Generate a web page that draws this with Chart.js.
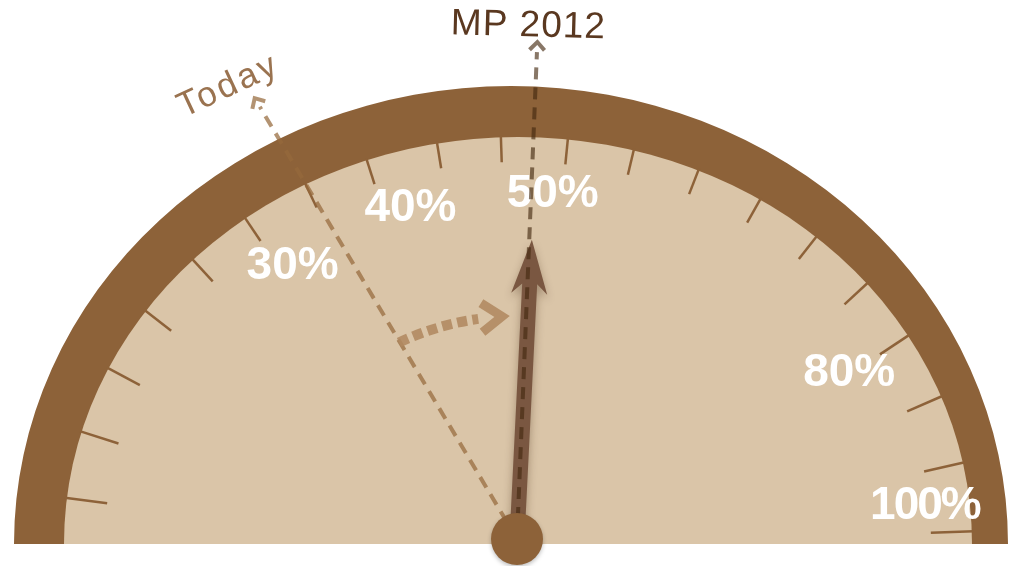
<!DOCTYPE html>
<html>
<head>
<meta charset="utf-8">
<script src="https://cdn.jsdelivr.net/npm/chart.js@4.4.1/dist/chart.umd.min.js"></script>
<style>
  html, body { margin: 0; padding: 0; background: #fff; }
  #gauge { display: block; }
</style>
</head>
<body>
<canvas id="gauge" width="1010" height="566"></canvas>
<script>
// dial readings, in percent of the dial
const bandValues = [100];
const faceValues = [100];
const tickValues = [3.6, 8.9, 14.2, 19.4, 24.6, 29.5, 34.5, 39.2, 44.3, 48.8,
                    53.5, 58.2, 63.0, 67.9, 72.8, 77.9, 82.9, 88.2, 93.6, 99.0];
const scaleLabels = ['30%', '40%', '50%', '80%', '100%'];
const scaleLabelAt = [30.2, 41.2, 52.8, 83.1, 96.4];
const needleValue = 51.3;
const todayValue = 34.5;
const mp2012Value = 51.1;
const markerNames = ['Today', 'MP 2012'];

// layout of the dial face (pixels)
const BAND_SQUASH = 458 / 497;
const FACE_RX = 454, FACE_RY = 407, FACE_SHIFT = 7;
const labelRadius = [0.852, 0.868, 0.871, 0.846, 0.902];

const BROWN = '#8D6239';
const TAN = '#DAC5A8';

function faceCenter(chart) {
  const arc = chart.getDatasetMeta(1).data[0];
  return { x: arc.x + FACE_SHIFT, y: arc.y };
}

function facePoint(chart, value, frac) {
  const c = faceCenter(chart);
  const phi = Math.PI * (1 - value / 100);
  return { x: c.x + FACE_RX * frac * Math.cos(phi), y: c.y - FACE_RY * frac * Math.sin(phi), phi: phi };
}

function hubPoint(chart) {
  const c = faceCenter(chart);
  return { x: c.x - 1, y: c.y - 5 };
}

function chevron(ctx, tip, ang, len, spread) {
  ctx.beginPath();
  ctx.moveTo(tip.x + len * Math.cos(ang + Math.PI - spread), tip.y + len * Math.sin(ang + Math.PI - spread));
  ctx.lineTo(tip.x, tip.y);
  ctx.lineTo(tip.x + len * Math.cos(ang + Math.PI + spread), tip.y + len * Math.sin(ang + Math.PI + spread));
  ctx.stroke();
}

function dashedMarker(ctx, from, to, color) {
  const ang = Math.atan2(to.y - from.y, to.x - from.x);
  ctx.save();
  ctx.strokeStyle = color;
  ctx.lineWidth = 4;
  ctx.setLineDash([12, 8]);
  ctx.beginPath();
  ctx.moveTo(from.x, from.y);
  ctx.lineTo(to.x - 10 * Math.cos(ang), to.y - 10 * Math.sin(ang));
  ctx.stroke();
  ctx.setLineDash([]);
  chevron(ctx, to, ang, 11, 0.75);
  ctx.restore();
}

// squash the doughnut rings into the dial shape
const dialShape = {
  id: 'dialShape',
  beforeDatasetDraw(chart, args) {
    const arc = args.meta.data[0];
    const ctx = chart.ctx;
    ctx.save();
    if (args.index === 0) {
      ctx.translate(arc.x, arc.y);
      ctx.scale(1, BAND_SQUASH);
      ctx.translate(-arc.x, -arc.y);
    } else {
      const r = arc.outerRadius;
      ctx.translate(arc.x + FACE_SHIFT, arc.y);
      ctx.scale(FACE_RX / r, FACE_RY / r);
      ctx.translate(-arc.x, -arc.y);
    }
  },
  afterDatasetDraw(chart) {
    chart.ctx.restore();
  }
};

const dialMarks = {
  id: 'dialMarks',
  afterDraw(chart) {
    const ctx = chart.ctx;
    const hub = hubPoint(chart);
    const fc = faceCenter(chart);

    // tick marks, normal to the face edge
    ctx.save();
    ctx.strokeStyle = BROWN;
    ctx.lineWidth = 2.5;
    tickValues.forEach(v => {
      const p = facePoint(chart, v, 1);
      let nx = Math.cos(p.phi) / FACE_RX, ny = -Math.sin(p.phi) / FACE_RY;
      const nl = Math.hypot(nx, ny);
      nx /= nl; ny /= nl;
      const len = 25 + 16 * Math.pow(Math.abs(Math.cos(p.phi)), 4);
      ctx.beginPath();
      ctx.moveTo(p.x + nx * 2, p.y + ny * 2);
      ctx.lineTo(p.x - nx * len, p.y - ny * len);
      ctx.stroke();
    });
    ctx.restore();

    // scale labels
    ctx.save();
    ctx.fillStyle = '#ffffff';
    ctx.font = 'bold 46px "Liberation Sans", Arial, sans-serif';
    ctx.textAlign = 'center';
    ctx.textBaseline = 'alphabetic';
    scaleLabels.forEach((t, i) => {
      const p = facePoint(chart, scaleLabelAt[i], labelRadius[i]);
      ctx.letterSpacing = t.length > 3 ? '-2px' : '0px';
      ctx.fillText(t, p.x, p.y + 16.5);
    });
    ctx.restore();

    // Today marker
    const todayTip = facePoint(chart, todayValue, 1.2395);
    dashedMarker(ctx, hub, todayTip, 'rgba(150,105,60,0.72)');

    // curved move arrow from Today towards the needle
    const fr = 0.56;
    const endVal = needleValue - 6.3;
    const tipVal = needleValue - 3.3;
    ctx.save();
    ctx.strokeStyle = 'rgba(176,137,96,0.88)';
    ctx.lineWidth = 10;
    ctx.setLineDash([10, 5.4]);
    ctx.beginPath();
    ctx.ellipse(fc.x, fc.y, FACE_RX * fr, FACE_RY * fr, 0,
      -Math.PI * (1 - todayValue / 100), -Math.PI * (1 - endVal / 100));
    ctx.stroke();
    ctx.setLineDash([]);
    const at = facePoint(chart, tipVal, fr);
    const tang = Math.atan2(FACE_RY * fr * Math.cos(at.phi), FACE_RX * fr * Math.sin(at.phi));
    ctx.lineWidth = 9;
    ctx.lineJoin = 'miter';
    chevron(ctx, at, tang, 25, 0.62);
    ctx.restore();

    // main needle
    const tip = facePoint(chart, needleValue, 0.748);
    const L = Math.hypot(tip.x - hub.x, tip.y - hub.y);
    const ang = Math.atan2(tip.y - hub.y, tip.x - hub.x);
    ctx.save();
    ctx.translate(hub.x, hub.y);
    ctx.rotate(ang);
    ctx.shadowColor = 'rgba(60,35,15,0.35)';
    ctx.shadowBlur = 8;
    ctx.shadowOffsetX = 0;
    ctx.shadowOffsetY = 5;
    ctx.fillStyle = '#7A5741';
    ctx.beginPath();
    ctx.moveTo(0, -7.5);
    ctx.lineTo(L - 44, -7.5);
    ctx.lineTo(L - 54, -18);
    ctx.lineTo(L, 0);
    ctx.lineTo(L - 54, 18);
    ctx.lineTo(L - 44, 7.5);
    ctx.lineTo(0, 7.5);
    ctx.closePath();
    ctx.fill();
    ctx.restore();

    // MP 2012 marker
    const mpTip = facePoint(chart, mp2012Value, 1.234);
    dashedMarker(ctx, hub, mpTip, 'rgba(66,40,15,0.63)');

    // hub
    ctx.save();
    ctx.shadowColor = 'rgba(0,0,0,0.25)';
    ctx.shadowBlur = 4;
    ctx.shadowOffsetY = 2;
    ctx.fillStyle = BROWN;
    ctx.beginPath();
    ctx.arc(hub.x, hub.y, 26, 0, Math.PI * 2);
    ctx.fill();
    ctx.restore();

    // marker names
    ctx.save();
    ctx.textAlign = 'center';
    ctx.textBaseline = 'middle';
    ctx.translate(todayTip.x - 26, todayTip.y - 12);
    ctx.rotate(-25 * Math.PI / 180);
    ctx.fillStyle = '#9A7350';
    ctx.font = '35px "Liberation Sans", Arial, sans-serif';
    ctx.letterSpacing = '3px';
    ctx.fillText(markerNames[0], 0, 0);
    ctx.restore();

    ctx.save();
    ctx.textAlign = 'center';
    ctx.textBaseline = 'middle';
    ctx.translate(mpTip.x - 9, mpTip.y - 16);
    ctx.rotate(1.5 * Math.PI / 180);
    ctx.fillStyle = '#5A3820';
    ctx.font = '37px "Liberation Sans", Arial, sans-serif';
    ctx.letterSpacing = '1px';
    ctx.fillText(markerNames[1], 0, 0);
    ctx.restore();
  }
};

const ctx = document.getElementById('gauge').getContext('2d');
window.gaugeChart = new Chart(ctx, {
  type: 'doughnut',
  data: {
    labels: ['dial'],
    datasets: [
      { data: bandValues, backgroundColor: BROWN, borderWidth: 0, hoverOffset: 0, weight: 77, order: 1 },
      { data: faceValues, backgroundColor: TAN, borderWidth: 0, hoverOffset: 0, weight: 420, order: 0 }
    ]
  },
  options: {
    responsive: false,
    animation: false,
    rotation: -90,
    circumference: 180,
    cutout: 0,
    events: [],
    layout: { padding: { left: 14, right: 2, top: 47, bottom: 22 } },
    plugins: {
      legend: { display: false },
      tooltip: { enabled: false }
    }
  },
  plugins: [dialShape, dialMarks]
});
</script>
</body>
</html>
